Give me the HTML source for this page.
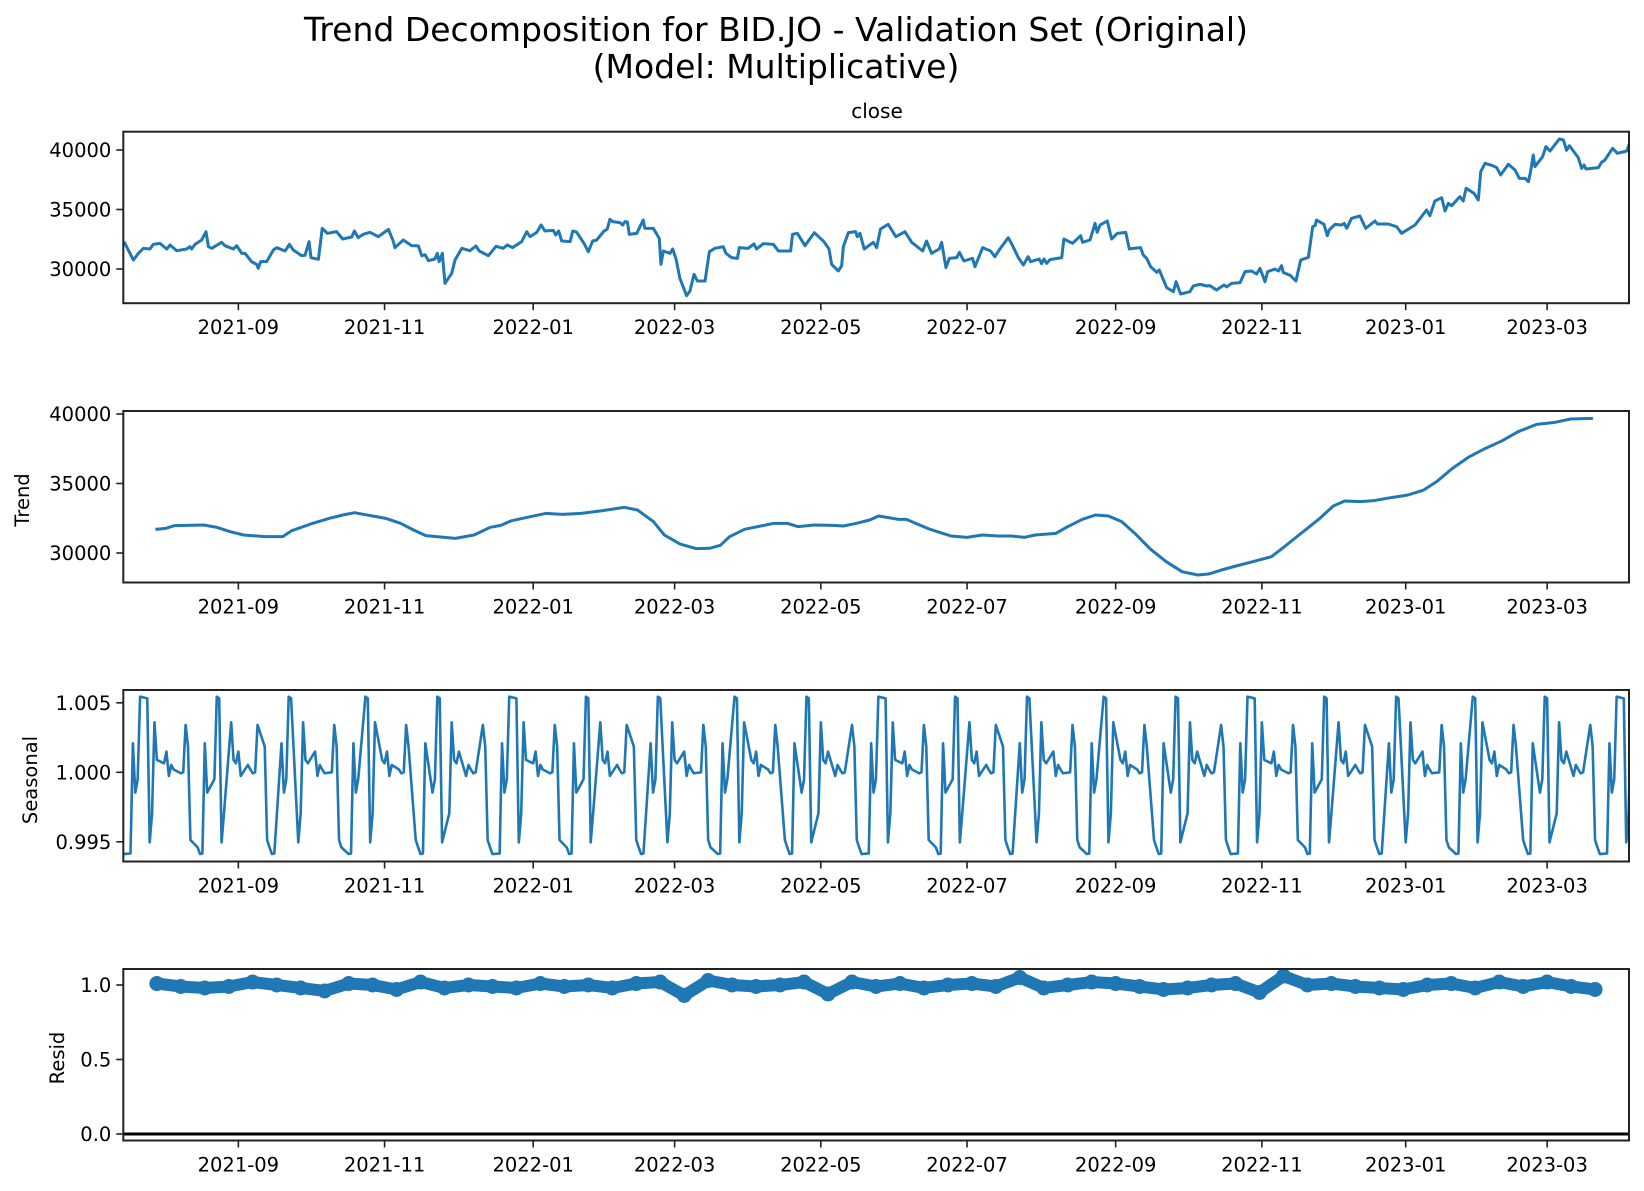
<!DOCTYPE html>
<html><head><meta charset="utf-8"><style>
html,body{margin:0;padding:0;background:#fff;}
svg{display:block;font-family:"DejaVu Sans","Liberation Sans",sans-serif;}
</style></head><body>
<svg id="fig" width="1644" height="1191" viewBox="0 0 1644 1191" xmlns="http://www.w3.org/2000/svg">
<rect width="1644" height="1191" fill="#fff"/>
<text x="776" y="41" font-size="33" text-anchor="middle">Trend Decomposition for BID.JO - Validation Set (Original)</text>
<text x="776" y="78" font-size="33" text-anchor="middle">(Model: Multiplicative)</text>
</svg>
<script>
// ---- data (x = days since 2021-07-15) ----
const closeDays = [0.3,4.2,6.3,8.4,11.1,12.5,15.3,18.1,19.5,22.3,26.4,27.8,28.5,29.9,32.7,34.5,35.5,36.9,41.0,42.4,45.9,47.3,49.4,50.8,53.5,55.6,56.3,57.3,59.8,62.6,64.0,67.5,69.3,70.9,74.4,75.8,77.5,78.3,81.4,83.0,85.1,89.0,91.5,95.3,96.4,98.0,100.1,102.9,106.4,110.6,112.7,113.3,116.8,120.3,123.1,124.5,125.9,127.3,130.0,131.0,131.8,133.1,134.2,137.0,138.4,141.2,144.6,147.1,148.5,152.3,155.5,158.5,160.2,162.4,166.2,168.3,169.7,172.5,174.3,175.9,179.4,180.4,181.6,182.9,186.4,187.5,189.1,192.2,194.0,195.8,197.5,200.3,201.9,203.0,204.2,207.2,208.3,209.3,210.3,211.1,214.2,216.9,217.6,221.1,223.6,224.3,225.3,228.1,229.2,230.6,232.2,235.0,236.4,238.1,239.5,242.7,244.5,246.8,250.3,251.4,253.8,256.2,257.0,260.7,263.1,264.2,267.0,271.2,273.3,278.4,279.2,281.2,284.4,288.3,292.3,294.4,295.5,298.3,299.7,300.4,302.5,305.5,306.2,307.3,309.1,312.9,314.3,315.9,319.1,322.3,326.1,328.9,333.5,335.1,337.2,340.4,341.4,343.2,344.6,347.7,348.8,350.7,354.3,355.3,358.5,361.8,363.6,365.7,369.2,371.0,373.4,375.5,377.5,378.5,382.1,383.1,384.1,385.2,386.6,391.5,392.4,396.0,399.4,400.2,403.3,405.4,406.3,407.5,410.5,412.3,414.7,418.2,419.7,421.4,424.4,425.5,426.9,428.6,431.1,432.2,435.3,438.1,439.2,441.1,445.0,446.4,449.2,452.0,453.3,456.1,459.2,460.3,462.4,465.9,468.0,470.7,472.8,474.2,476.3,477.4,480.5,481.9,483.2,483.9,487.0,489.2,491.2,494.4,496.2,497.2,497.8,500.9,502.3,503.1,505.5,508.3,509.3,510.4,512.4,515.9,518.3,522.2,523.2,527.7,531.2,533.3,538.9,543.7,545.1,547.2,550.0,551.4,552.8,554.2,557.6,559.0,560.2,563.5,565.3,566.3,568.1,571.3,573.0,574.6,577.8,580.6,582.4,584.8,586.2,587.1,588.2,588.9,592.1,593.5,595.2,599.1,600.8,602.1,603.3,607.0,608.4,609.4,610.2,615.4,616.7,618.1,621.3,623.3,627.2,628.2];
const closeValues = [32298,30757,31317,31737,31681,32073,32157,31681,32017,31541,31681,31877,31681,32073,32437,33138,31877,31737,32241,31961,31681,31961,31317,31317,30617,30393,30057,30617,30617,31597,31793,31513,32073,31597,31121,31150,32297,30953,30813,33418,32998,33138,32521,32689,33194,32633,32913,33082,32717,33334,32297,31793,32437,31961,31940,31121,31200,30701,30841,31317,30617,31317,28796,29636,30757,31737,31541,31933,31513,31121,31905,31737,32017,31793,32297,33138,32717,33082,33698,33194,33250,32857,33194,32353,32297,33194,33100,32157,31457,32353,32437,33138,33362,34174,33978,33894,33698,33978,33950,32913,32998,34118,33418,33418,32577,30393,31513,31317,31681,30841,29216,27759,28152,29552,28992,28992,31457,31737,31877,31317,30953,30897,31793,31737,32101,31681,32129,32073,31513,31513,32913,32998,31961,33054,32297,31681,30393,29833,30281,31877,33054,33138,32717,33000,31681,32241,31793,33362,33754,32717,33138,32241,31513,32353,31317,31681,32241,30113,30897,30953,31401,30673,30897,30197,31793,31513,31037,31681,32633,31961,30953,30337,31037,30617,30841,30449,30841,30477,30785,30953,32521,32157,32801,32241,32437,33838,33082,33698,34034,32521,32998,33082,31681,31737,31793,31177,30897,30197,29721,29917,28432,28096,28936,27900,28096,28572,28712,28572,28600,28236,28656,28500,28796,28852,29777,29833,29581,30057,28936,29777,29997,29833,30281,29721,29440,28992,30757,30981,33558,33642,34118,33754,32801,33278,33754,33698,33838,33418,34258,34454,33418,34034,33782,33782,33558,32998,33698,34958,34482,35714,35994,34874,35518,35322,36079,35714,36779,36359,35798,38180,38880,38684,38516,37900,38796,38320,37619,37619,37339,38180,39580,38600,39440,40280,39916,40925,40840,39972,40364,39356,38460,38740,38404,38516,38964,39160,40140,39720,39916,40476];
const trendDays = [13.4,17.8,21.2,33.5,39.0,44.6,50.2,59.2,66.5,70.3,78.2,86.0,91.6,96.5,100.1,109.4,115.7,121.1,126.2,138.5,146.3,153.1,157.5,162.0,169.8,176.5,183.2,191.0,200.0,208.9,214.5,221.2,225.7,232.3,239.1,244.6,249.1,252.9,259.2,265.9,271.5,277.0,281.5,288.2,296.0,300.4,305.9,311.4,315.1,323.4,326.7,332.2,336.6,341.0,345.3,351.9,358.4,365.0,370.5,376.0,380.4,389.1,393.5,400.1,405.6,411.0,416.5,422.0,428.6,435.1,441.7,448.3,452.7,458.1,465.8,470.2,479.0,484.4,491.0,498.7,504.8,509.6,516.2,521.7,527.1,535.9,542.5,547.9,554.5,561.1,568.3,575.3,581.9,589.6,597.3,603.8,613.1];
const trendValues = [31703,31775,31967,32015,31847,31535,31295,31175,31175,31607,32087,32494,32734,32902,32782,32494,32134,31655,31247,31055,31295,31847,31990,32326,32614,32854,32782,32854,33046,33285,33094,32254,31295,30647,30312,30340,30552,31175,31703,31943,32134,32134,31895,32015,31990,31943,32134,32374,32662,32422,32422,32015,31703,31463,31223,31127,31295,31223,31223,31127,31295,31415,31847,32422,32734,32662,32254,31415,30264,29376,28657,28417,28489,28777,29137,29329,29736,30455,31367,32422,33381,33741,33700,33765,33933,34173,34532,35132,36091,36882,37530,38081,38729,39256,39400,39640,39688];
const seasonalPattern = [0.99412,0.99416,1.00209,0.99854,0.99950,1.00544,1.00532,0.99496,0.99705,1.00360,1.00089,1.00065,1.00149,0.99974,1.00053,1.00020,0.99993,1.00000,1.00341,1.00185,0.99513,0.99460];
const residDays = [14,24,34,44,54,64,74,84,94,104,114,124,134,144,154,164,174,184,194,204,214,224,234,244,254,264,274,284,294,304,314,324,334,344,354,364,374,384,394,404,414,424,434,444,454,464,474,484,494,504,514,524,534,544,554,564,574,584,594,604,614];
const residValues = [1.01,0.99,0.98,0.99,1.02,1.00,0.98,0.96,1.01,1.00,0.97,1.02,0.98,1.00,0.99,0.98,1.01,0.99,1.00,0.98,1.01,1.02,0.93,1.03,1.00,0.99,1.00,1.02,0.94,1.02,0.99,1.01,0.98,1.00,1.01,0.99,1.05,0.98,1.00,1.02,1.01,0.99,0.97,0.98,1.00,1.01,0.95,1.06,1.00,1.01,0.99,0.98,0.97,1.00,1.01,0.98,1.02,0.99,1.02,0.99,0.97];
const xTickDays = [48,109,171,230,291,352,414,475,535,594];
const xTickLabels = ["2021-09","2021-11","2022-01","2022-03","2022-05","2022-07","2022-09","2022-11","2023-01","2023-03"];
const closeTicks = [30000,35000,40000];
const trendTicks = [30000,35000,40000];
const seasonalTicks = [0.995,1.000,1.005];
const seasonalTickLabels = ["0.995","1.000","1.005"];
const residTicks = [0,0.5,1.0];
const residTickLabels = ["0.0","0.5","1.0"];
const SEASON_END_DAY = 629;

// ---- geometry ----
const NS = "http://www.w3.org/2000/svg";
const svg = document.getElementById('fig');
const L = 123.3, R = 1629;
const xScale = d => L + d * 2.397;
const panels = [
  {top:131.7, name:'close', y: v => 150 - (v - 40000) / 84.03},
  {top:411, name:'trend', y: v => 414 - (v - 40000) / 71.94},
  {top:690, name:'seasonal', y: v => 772.3 - (v - 1) / 0.005 * 69.5},
  {top:969, name:'resid', y: v => 1134 - v * 149}
];
const PH = 171.5;
const BLUE = '#1f77b4';

function mk(tag, attrs, parent) {
  const e = document.createElementNS(NS, tag);
  for (const k in attrs) e.setAttribute(k, attrs[k]);
  (parent || svg).appendChild(e);
  return e;
}
function pathFrom(xs, ys) {
  let d = '';
  for (let i = 0; i < xs.length; i++) d += (i ? 'L' : 'M') + xs[i].toFixed(2) + ' ' + ys[i].toFixed(2);
  return d;
}

panels.forEach((p, pi) => {
  const g = mk('g', {});
  
  
  const clipId = 'clip' + pi;
  const cp = mk('clipPath', {id: clipId}, g);
  mk('rect', {x: L, y: p.top, width: R - L, height: PH}, cp);
  const plot = mk('g', {'clip-path': 'url(#' + clipId + ')'}, g);
  
  

  if (pi === 0) {
    const e = mk('path', {d: pathFrom(closeDays.map(xScale), closeValues.map(p.y)), fill: 'none', stroke: BLUE, 'stroke-width': 3, 'stroke-linejoin': 'round'}, plot);
    
    
  } else if (pi === 1) {
    const e = mk('path', {d: pathFrom(trendDays.map(xScale), trendValues.map(p.y)), fill: 'none', stroke: BLUE, 'stroke-width': 3, 'stroke-linejoin': 'round'}, plot);
    
    
  } else if (pi === 2) {
    const xs = [], ys = [];
    let idx = 0;
    const start = new Date(Date.UTC(2021, 6, 15));
    for (let d = 0; d <= SEASON_END_DAY; d++) {
      const wd = new Date(start.getTime() + d * 86400000).getUTCDay();
      if (wd === 5 || wd === 6) continue;
      xs.push(xScale(d));
      ys.push(p.y(seasonalPattern[idx % seasonalPattern.length]));
      idx++;
    }
    const e = mk('path', {d: pathFrom(xs, ys), fill: 'none', stroke: BLUE, 'stroke-width': 2.6, 'stroke-linejoin': 'round'}, plot);
    
    
  } else {
    const band = mk('path', {d: pathFrom(residDays.map(xScale), residValues.map(p.y)), fill: 'none', stroke: BLUE, 'stroke-width': 12, 'stroke-linejoin': 'round', 'stroke-linecap': 'round'}, plot);
    
    
    residDays.forEach((d, i) => {
      const c = mk('circle', {cx: xScale(d), cy: p.y(residValues[i]), r: 7.5, fill: BLUE}, plot);
      
      
    });
    const zl = mk('line', {x1: L, x2: R, y1: p.y(0), y2: p.y(0), stroke: '#000', 'stroke-width': 3}, plot);
    
    
  }

  const fr = mk('rect', {x: L, y: p.top, width: R - L, height: PH, fill: 'none', stroke: '#222', 'stroke-width': 2}, g);
  
  

  const bot = p.top + PH;
  xTickDays.forEach((d, i) => {
    const x = xScale(d);
    const t = mk('line', {x1: x, x2: x, y1: bot, y2: bot + 7, stroke: '#222', 'stroke-width': 1.6}, g);
    
    
    const lb = mk('text', {x: x, y: bot + 31, 'font-size': 19.5, 'text-anchor': 'middle', fill: '#000'}, g);
    lb.textContent = xTickLabels[i];
    
    
  });

  let tv, tl;
  if (pi === 0) { tv = closeTicks; tl = closeTicks.map(String); }
  else if (pi === 1) { tv = trendTicks; tl = trendTicks.map(String); }
  else if (pi === 2) { tv = seasonalTicks; tl = seasonalTickLabels; }
  else { tv = residTicks; tl = residTickLabels; }
  tv.forEach((v, i) => {
    const y = p.y(v);
    const t = mk('line', {x1: L - 7, x2: L, y1: y, y2: y, stroke: '#222', 'stroke-width': 1.6}, g);
    
    
    const lb = mk('text', {x: L - 12, y: y + 7, 'font-size': 19.5, 'text-anchor': 'end', fill: '#000'}, g);
    lb.textContent = tl[i];
    
    
  });
});

let t = mk('text', {x: 877, y: 118, 'font-size': 20, 'text-anchor': 'middle'});
t.textContent = 'close';


[['Trend', 29, 500], ['Seasonal', 37, 780], ['Resid', 64, 1058]].forEach(a => {
  const e = mk('text', {x: a[1], y: a[2], 'font-size': 19.5, 'text-anchor': 'middle', transform: 'rotate(-90 ' + a[1] + ' ' + a[2] + ')'});
  e.textContent = a[0];
  
  
});
</script>
</body></html>
